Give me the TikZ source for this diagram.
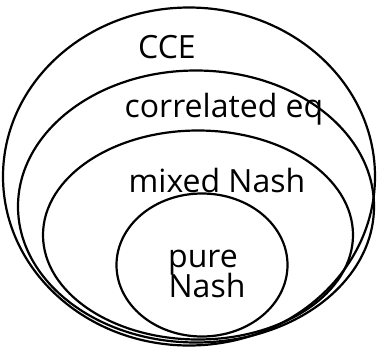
\documentclass[tikz,border=0pt]{standalone}
\usepackage{fontspec}
\setmainfont{Open Sans}
\usetikzlibrary{shapes.geometric,positioning}

\tikzset{
  set/.style={draw, ellipse, line width=2.2pt, inner sep=0pt},
  setname/.style={font=\fontsize{32}{30}\selectfont, inner sep=0pt, anchor=base}
}

\begin{document}
\begin{tikzpicture}[x=1pt,y=-1pt]
    \useasboundingbox (0,0) rectangle (377,351);
    % the four sets, outermost first
    \node[set, minimum width=372pt, minimum height=338pt] (cce) at (189,176.5) {};
    \node[set, minimum width=356pt, minimum height=272pt] (ce) at (196,206.5) {};
    \node[set, minimum width=310pt, minimum height=209pt] (mne) at (198,235) {};
    \node[set, minimum width=171pt, minimum height=143pt] (pne) at (202,265) {};
    % names
    \node[setname] (cce label) at (167,58) {CCE};
    \node[setname] (ce label) at (224,117) {correlated eq};
    \node[setname] (mne label) at (217,192) {mixed Nash};
    \node[setname] (pure label) at (203,267) {pure};
    \node[setname] (nash label) at (207,297) {Nash};
\end{tikzpicture}
\end{document}
